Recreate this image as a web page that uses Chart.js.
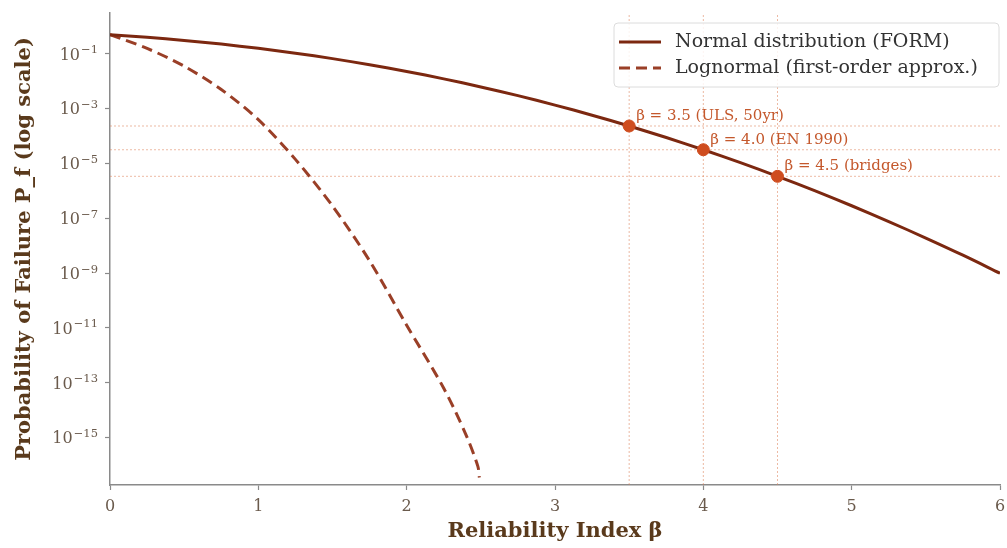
<!DOCTYPE html>
<html>
<head>
<meta charset="utf-8">
<script src="https://cdn.jsdelivr.net/npm/chart.js@4.4.0/dist/chart.umd.min.js"></script>
<style>
  html, body { margin: 0; padding: 0; background: #ffffff; }
  #wrap { width: 1007px; height: 548px; }
</style>
</head>
<body>
<div id="wrap"><canvas id="pfChart"></canvas></div>
<script>
// reliability index (x) and failure probabilities
const betaNormal = [0, 0.25, 0.5, 0.75, 1.0, 1.25, 1.5, 1.75, 2.0, 2.25, 2.5, 2.75, 3.0,
  3.25, 3.5, 3.75, 4.0, 4.25, 4.5, 4.75, 5.0, 5.25, 5.5, 5.75, 6.0];
const pfNormal = [0.5, 0.401, 0.309, 0.227, 0.159, 0.106, 0.0668, 0.0401, 0.0228, 0.0122,
  0.00621, 0.00298, 0.00135, 5.77e-4, 2.33e-4, 8.84e-5, 3.17e-5, 1.07e-5, 3.40e-6,
  1.02e-6, 2.87e-7, 7.6e-8, 1.9e-8, 4.5e-9, 9.9e-10];

const betaLognormal = [0, 0.25, 0.5, 0.75, 1.0, 1.25, 1.5, 1.75, 2.0, 2.25, 2.4, 2.48, 2.49];
const pfLognormal = [0.5, 0.158, 0.0355, 0.0050, 3.98e-4, 1.41e-5, 2.82e-7, 2.82e-9,
  1.26e-11, 6.3e-14, 1.26e-15, 8.9e-17, 3.5e-17];

// target levels
const targetBeta = [3.5, 4.0, 4.5];
const targetPf = [2.33e-4, 3.17e-5, 3.40e-6];
const targetLabels = ["β = 3.5 (ULS, 50yr)", "β = 4.0 (EN 1990)", "β = 4.5 (bridges)"];

// axes
const xTicks = [0, 1, 2, 3, 4, 5, 6];
const yTickValues = [1e-15, 1e-13, 1e-11, 1e-9, 1e-7, 1e-5, 1e-3, 1e-1];
const yTickBase = "10";
const yTickExps = ["−15", "−13", "−11", "−9", "−7", "−5", "−3", "−1"];
const yMin = 1.86e-17;
const yMax = 3.09;

const seriesLabels = ["Normal distribution (FORM)", "Lognormal (first-order approx.)"];

const SERIF = "'DejaVu Serif', 'Liberation Serif', serif";
const normalColor = "#7c2810";
const lognormalColor = "#9a3f27";
const markerColor = "#cf4d1f";
const refColor = "rgba(222, 130, 90, 0.55)";
const tickColor = "#6a5a4c";

const toXY = (xs, ys) => xs.map((x, i) => ({ x: x, y: ys[i] }));

const refLines = [];
targetBeta.forEach((b, i) => {
  refLines.push({
    label: "h" + i,
    data: [{ x: 0, y: targetPf[i] }, { x: 6, y: targetPf[i] }],
    borderColor: refColor, borderWidth: 1, borderDash: [2, 2],
    pointRadius: 0, order: 5,
  });
  refLines.push({
    label: "v" + i,
    data: [{ x: b, y: yMin }, { x: b, y: yMax }],
    borderColor: refColor, borderWidth: 1, borderDash: [2, 2],
    pointRadius: 0, order: 5,
  });
});

// y tick labels with superscripts, marker captions and the legend
const overlayPlugin = {
  id: "overlay",
  afterDraw(chart) {
    const ctx = chart.ctx;
    const xs = chart.scales.x;
    const ys = chart.scales.y;
    ctx.save();

    ctx.fillStyle = tickColor;
    ctx.textBaseline = "alphabetic";
    ctx.textAlign = "left";
    const right = ys.right - 12;
    yTickValues.forEach((v, i) => {
      const py = ys.getPixelForValue(v);
      ctx.font = "11.5px " + SERIF;
      const ew = ctx.measureText(yTickExps[i]).width;
      ctx.font = "16px " + SERIF;
      const bw = ctx.measureText(yTickBase).width;
      ctx.fillText(yTickBase, right - ew - bw - 1, py + 5.8);
      ctx.font = "11.5px " + SERIF;
      ctx.fillText(yTickExps[i], right - ew, py - 0.5);
    });

    ctx.font = "15px " + SERIF;
    ctx.fillStyle = "#c4582c";
    ctx.textBaseline = "middle";
    targetBeta.forEach((b, i) => {
      ctx.fillText(targetLabels[i], xs.getPixelForValue(b) + 7, ys.getPixelForValue(targetPf[i]) - 10);
    });

    const area = chart.chartArea;
    const bx = area.right - 386, by = area.top + 10, bw = 385, bh = 64;
    ctx.beginPath();
    ctx.roundRect(bx, by, bw, bh, 4);
    ctx.fillStyle = "rgba(255,255,255,0.85)";
    ctx.fill();
    ctx.strokeStyle = "#dcdcdc";
    ctx.lineWidth = 1;
    ctx.stroke();

    const styles = [
      { color: normalColor, dash: [] },
      { color: lognormalColor, dash: [11, 6] },
    ];
    seriesLabels.forEach((lab, i) => {
      const ly = by + 19 + i * 26;
      ctx.beginPath();
      ctx.setLineDash(styles[i].dash);
      ctx.strokeStyle = styles[i].color;
      ctx.lineWidth = 3;
      ctx.moveTo(bx + 5, ly);
      ctx.lineTo(bx + 47, ly);
      ctx.stroke();
      ctx.setLineDash([]);
      ctx.font = "19px " + SERIF;
      ctx.fillStyle = "#333333";
      ctx.textBaseline = "middle";
      ctx.fillText(lab, bx + 61, ly);
    });
    ctx.restore();
  },
};

new Chart(document.getElementById("pfChart"), {
  type: "line",
  data: {
    datasets: [
      {
        label: "targets",
        data: toXY(targetBeta, targetPf),
        showLine: false,
        pointRadius: 6,
        pointBackgroundColor: markerColor,
        pointBorderColor: markerColor,
        order: 0,
      },
      {
        label: seriesLabels[0],
        data: toXY(betaNormal, pfNormal),
        borderColor: normalColor,
        borderWidth: 3,
        pointRadius: 0,
        tension: 0.3,
        order: 1,
      },
      {
        label: seriesLabels[1],
        data: toXY(betaLognormal, pfLognormal),
        borderColor: lognormalColor,
        borderWidth: 3,
        borderDash: [11, 6],
        pointRadius: 0,
        tension: 0.3,
        order: 2,
      },
      ...refLines,
    ],
  },
  options: {
    responsive: true,
    maintainAspectRatio: false,
    animation: false,
    layout: { padding: { left: 0, right: -2, top: 13, bottom: 0 } },
    plugins: {
      legend: { display: false },
      tooltip: { enabled: false },
    },
    scales: {
      x: {
        type: "linear",
        min: 0,
        max: 6,
        afterBuildTicks: (scale) => { scale.ticks = xTicks.map((v) => ({ value: v })); },
        afterFit: (scale) => {
          scale.height = 63;
          scale.paddingRight = 0;
          scale.paddingLeft = 0;
        },
        ticks: {
          color: tickColor,
          font: { family: SERIF, size: 16 },
          padding: 7,
          maxRotation: 0,
        },
        grid: { drawOnChartArea: false, tickLength: 5, tickColor: "#8a8a8a", tickWidth: 1.2 },
        border: { display: true, color: "#8a8a8a", width: 1.5 },
        title: {
          display: true,
          text: "Reliability Index β",
          color: "#5a3a1c",
          font: { family: SERIF, size: 21, weight: "bold" },
          padding: { top: 2, bottom: 4 },
        },
      },
      y: {
        type: "logarithmic",
        min: yMin,
        max: yMax,
        afterBuildTicks: (scale) => { scale.ticks = yTickValues.map((v) => ({ value: v })); },
        afterFit: (scale) => {
          scale.width = 110;
          scale.paddingTop = 0;
          scale.paddingBottom = 0;
        },
        ticks: { display: false },
        grid: { drawOnChartArea: false, tickLength: 5, tickColor: "#8a8a8a", tickWidth: 1.2 },
        border: { display: true, color: "#8a8a8a", width: 1.5 },
        title: {
          display: true,
          text: "Probability of Failure P_f (log scale)",
          color: "#5a3a1c",
          font: { family: SERIF, size: 21, weight: "bold" },
          padding: { top: 12, bottom: 4 },
        },
      },
    },
  },
  plugins: [overlayPlugin],
});
</script>
</body>
</html>
